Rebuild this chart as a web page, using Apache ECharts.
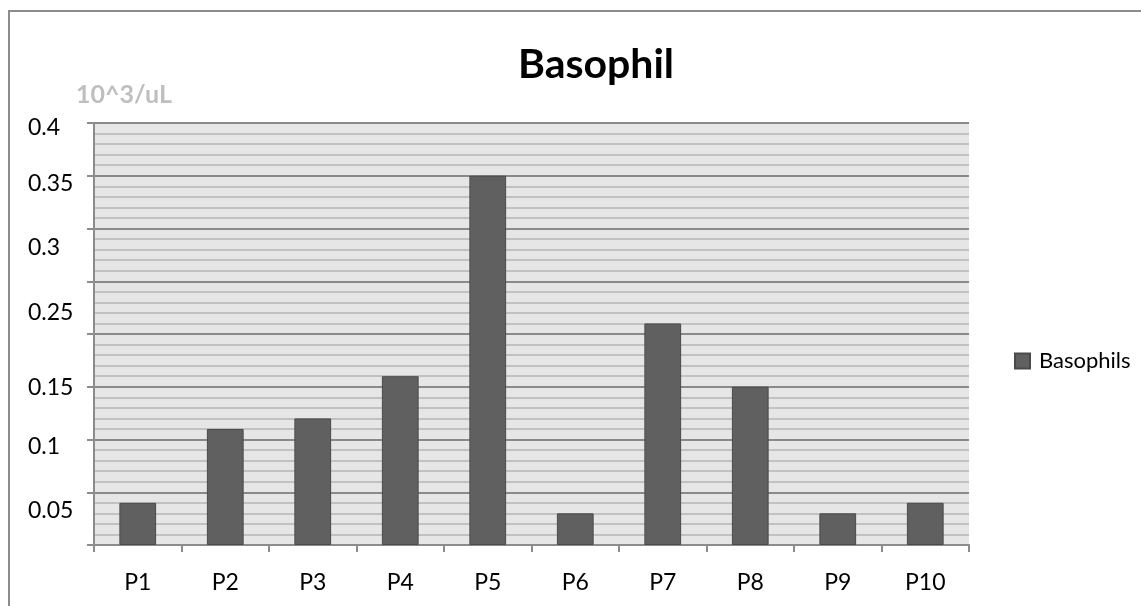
<!DOCTYPE html>
<html>
<head>
<meta charset="utf-8">
<title>Basophil</title>
<script src="https://cdn.jsdelivr.net/npm/echarts@6/dist/echarts.min.js"></script>
<style>
  html, body { margin: 0; padding: 0; background: #ffffff; }
  #chart { width: 1141px; height: 606px; }
</style>
</head>
<body>
<div id="chart"></div>
<script>
// Patients on the horizontal axis
const categories = ['P1', 'P2', 'P3', 'P4', 'P5', 'P6', 'P7', 'P8', 'P9', 'P10'];
// Basophil counts (10^3/uL)
const basophils = [0.04, 0.11, 0.12, 0.16, 0.35, 0.03, 0.21, 0.15, 0.03, 0.04];
// Printed labels of the value axis, top to bottom
const yTickLabels = ['0.4', '0.35', '0.3', '0.25', '0.15', '0.1', '0.05'];
// Axis values where each printed label sits
const yTickLabelAt = [0.396, 0.343, 0.282, 0.220, 0.149, 0.093, 0.033];

const FONT = 'Lato, "Open Sans", sans-serif';

const chart = echarts.init(document.getElementById('chart'), null, { renderer: 'canvas' });

chart.setOption({
  animation: false,
  backgroundColor: '#ffffff',
  textStyle: { fontFamily: FONT },
  title: {
    text: 'Basophil',
    left: 591,
    top: 39,
    textAlign: 'center',
    textStyle: { fontFamily: FONT, fontSize: 41, fontWeight: 'bold', color: '#000000' }
  },
  graphic: [
    {
      type: 'rect',
      silent: true,
      z: -10,
      shape: { x: 9, y: 11, width: 1200, height: 700 },
      style: { fill: 'none', stroke: '#8c8c8c', lineWidth: 2 }
    },
    {
      type: 'text',
      left: 76,
      top: 82,
      style: { text: '10^3/uL', fill: '#bfbfbf', font: 'bold 25px ' + FONT }
    }
  ],
  legend: {
    data: ['Basophils'],
    orient: 'vertical',
    left: 1009,
    top: 345,
    itemWidth: 15,
    itemHeight: 15,
    icon: 'rect',
    textStyle: { fontFamily: FONT, fontSize: 22, color: '#000000', padding: [0, 0, 0, 4] }
  },
  grid: {
    left: 94,
    right: 172,
    top: 123,
    bottom: 61,
    show: true,
    backgroundColor: '#e6e6e6',
    borderWidth: 0
  },
  xAxis: {
    type: 'category',
    data: categories,
    boundaryGap: true,
    axisLine: { show: true, lineStyle: { color: '#8c8c8c', width: 2 } },
    axisTick: { show: true, length: 7, alignWithLabel: false, lineStyle: { color: '#8c8c8c', width: 2 } },
    axisLabel: { margin: 26, fontFamily: FONT, fontSize: 23, color: '#000000' },
    splitLine: { show: false }
  },
  yAxis: [
    {
      type: 'value',
      min: 0,
      max: 0.4,
      interval: 0.05,
      axisLine: { show: true, lineStyle: { color: '#8c8c8c', width: 2 } },
      axisTick: { show: true, length: 7, lineStyle: { color: '#8c8c8c', width: 2 } },
      axisLabel: { show: false },
      splitLine: { show: true, lineStyle: { color: '#8a8a8a', width: 2 } },
      minorTick: { show: false, splitNumber: 5 },
      minorSplitLine: { show: true, lineStyle: { color: '#b5b5b5', width: 1.5 } }
    },
    {
      type: 'value',
      position: 'left',
      min: 0,
      max: 0.4,
      axisLine: { show: false },
      axisTick: { show: false },
      splitLine: { show: false },
      axisLabel: {
        show: true,
        customValues: yTickLabelAt,
        align: 'left',
        margin: 66,
        fontFamily: FONT,
        fontSize: 23,
        color: '#000000',
        formatter: function (v) {
          const i = yTickLabelAt.indexOf(v);
          return i >= 0 ? yTickLabels[i] : '';
        }
      }
    }
  ],
  series: [
    {
      name: 'Basophils',
      type: 'bar',
      data: basophils,
      yAxisIndex: 0,
      barWidth: '42%',
      itemStyle: { color: '#606060', borderColor: '#4a4a4a', borderWidth: 1 }
    }
  ]
});
</script>
</body>
</html>
